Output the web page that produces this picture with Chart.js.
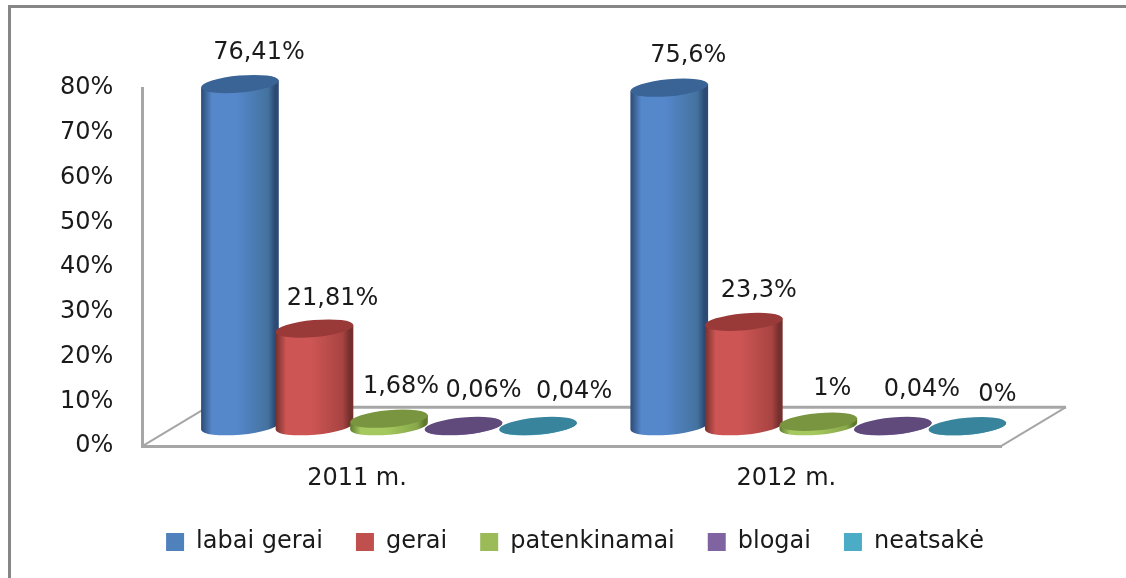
<!DOCTYPE html>
<html>
<head>
<meta charset="utf-8">
<script src="https://cdn.jsdelivr.net/npm/chart.js@4/dist/chart.umd.min.js"></script>
<style>
  html, body { margin: 0; background: #fff; }
  #wrap { position: relative; width: 1126px; height: 578px; }
</style>
</head>
<body>
<div id="wrap"><canvas id="myChart"></canvas></div>
<script>
  var years = ["2011 m.", "2012 m."];
  var labaiGerai = [76.41, 75.6];
  var gerai = [21.81, 23.3];
  var patenkinamai = [1.68, 1];
  var blogai = [0.06, 0.04];
  var neatsake = [0.04, 0];
  var seriesNames = ["labai gerai", "gerai", "patenkinamai", "blogai", "neatsakė"];
  var yTicks = [0, 10, 20, 30, 40, 50, 60, 70, 80];

  var FONT = "'DejaVu Sans'";
  var legendColors = ["#4f81bd", "#c0504d", "#9bbb59", "#8064a2", "#4bacc6"];
  // side colours: edge, centre, right shoulder, top cap
  var cylColors = [
    ["#2b4a74", "#5587cb", "#44729f", "#3a6496"],
    ["#752f2d", "#cd5654", "#a84442", "#9a3a38"],
    ["#5f7a2f", "#a6c95f", "#88a84a", "#7a9540"],
    ["#4d3b63", "#876aac", "#6f5890", "#604a7c"],
    ["#2a6b80", "#4fb5d0", "#3f94ad", "#38849d"],
  ];
  // where excel left each data label, relative to the cap centre
  var labelNudge = [
    [[19, -31], [19, -32]],
    [[18, -30], [15, -31]],
    [[12, -32], [14, -33]],
    [[20, -35], [29, -36]],
    [[36, -34], [30, -31]],
  ];

  function drawCylinder(ctx, cx, top, bottom, rx, ry, tilt, colors) {
    var grad = ctx.createLinearGradient(cx - rx, 0, cx + rx, 0);
    grad.addColorStop(0, colors[0]);
    grad.addColorStop(0.14, colors[1]);
    grad.addColorStop(0.45, colors[1]);
    grad.addColorStop(0.86, colors[2]);
    grad.addColorStop(0.95, colors[0]);
    grad.addColorStop(1, colors[0]);
    var dx = rx * Math.cos(tilt), dy = rx * Math.sin(tilt);
    ctx.beginPath();
    ctx.moveTo(cx - dx, top - dy);
    ctx.lineTo(cx - dx, bottom - dy);
    ctx.ellipse(cx, bottom, rx, ry, tilt, Math.PI, 0, true);
    ctx.lineTo(cx + dx, top + dy);
    ctx.closePath();
    ctx.fillStyle = grad;
    ctx.fill();
    ctx.beginPath();
    ctx.ellipse(cx, top, rx, ry, tilt, 0, Math.PI * 2);
    ctx.fillStyle = colors[3];
    ctx.fill();
  }

  var frame3d = {
    id: "frame3d",
    afterLayout: function (chart) {
      // excel centres the legend under the whole plot, floor included
      var l = chart.legend;
      l.left += 59;
      l.right += 59;
      l.top -= 14;
      l.bottom -= 14;
    },
    beforeDraw: function (chart) {
      var ctx = chart.ctx;
      ctx.save();
      ctx.strokeStyle = "#868686";
      ctx.lineWidth = 3;
      ctx.beginPath();
      ctx.moveTo(9.5, 578);
      ctx.lineTo(9.5, 6.5);
      ctx.lineTo(1126, 6.5);
      ctx.stroke();
      ctx.restore();
    },
    beforeDatasetsDraw: function (chart) {
      var a = chart.chartArea, ctx = chart.ctx;
      ctx.save();
      ctx.strokeStyle = "#a6a6a6";
      ctx.lineWidth = 2;
      ctx.beginPath();
      ctx.moveTo(a.left, a.bottom);
      ctx.lineTo(a.left + 65, a.bottom - 39);
      ctx.moveTo(a.right + 65, a.bottom - 39);
      ctx.lineTo(a.right, a.bottom);
      ctx.stroke();
      ctx.lineWidth = 3;
      ctx.beginPath();
      ctx.moveTo(a.left + 65, a.bottom - 39);
      ctx.lineTo(a.right + 65, a.bottom - 39);
      ctx.stroke();
      ctx.restore();
    },
    afterDatasetsDraw: function (chart) {
      var ctx = chart.ctx;
      var y = chart.scales.y;
      ctx.save();
      for (var i = 0; i < chart.data.datasets.length; i++) {
        chart.getDatasetMeta(i).data.forEach(function (bar, j) {
          var bottom = y.getPixelForValue(0) - 20;
          var top = y.getPixelForValue(chart.data.datasets[i].data[j]) - 20;
          drawCylinder(ctx, bar.x + 32, top, bottom, 39, 8.5, -0.09, cylColors[i]);
        });
      }
      ctx.font = "24px " + FONT;
      ctx.fillStyle = "#1a1a1a";
      ctx.textAlign = "center";
      ctx.textBaseline = "middle";
      for (var i = 0; i < chart.data.datasets.length; i++) {
        chart.getDatasetMeta(i).data.forEach(function (bar, j) {
          var v = chart.data.datasets[i].data[j];
          var n = labelNudge[i][j];
          var top = y.getPixelForValue(v) - 20;
          ctx.fillText(String(v).replace(".", ",") + "%", bar.x + 32 + n[0], top + n[1]);
        });
      }
      ctx.restore();
    },
  };

  var allSeries = [labaiGerai, gerai, patenkinamai, blogai, neatsake];

  var config = {
    type: "bar",
    data: {
      labels: years,
      datasets: allSeries.map(function (vals, i) {
        return {
          label: seriesNames[i],
          data: vals,
          // the cylinders are painted by frame3d instead
          backgroundColor: "rgba(0,0,0,0)",
          borderWidth: 0,
        };
      }),
    },
    options: {
      responsive: true,
      maintainAspectRatio: false,
      animation: false,
      datasets: { bar: { categoryPercentage: 0.868, barPercentage: 1 } },
      layout: { padding: { left: 31, right: 125, top: 88, bottom: 0 } },
      scales: {
        x: {
          grid: { display: false, drawTicks: false },
          border: { display: true, color: "#a6a6a6", width: 3 },
          ticks: { color: "#1a1a1a", font: { family: FONT, size: 24 }, padding: 18 },
        },
        y: {
          min: 0,
          max: 80,
          afterBuildTicks: function (axis) {
            axis.ticks = yTicks.map(function (v) { return { value: v }; });
          },
          grid: { display: false, drawTicks: false },
          border: { display: true, color: "#a6a6a6", width: 3 },
          ticks: {
            color: "#1a1a1a",
            font: { family: FONT, size: 24 },
            padding: 29,
            callback: function (v) { return v + "%"; },
          },
        },
      },
      plugins: {
        legend: {
          position: "bottom",
          labels: {
            color: "#1a1a1a",
            font: { family: FONT, size: 24 },
            boxWidth: 18,
            boxHeight: 18,
            padding: 33,
            generateLabels: function (chart) {
              return seriesNames.map(function (name, i) {
                return { text: name, fillStyle: legendColors[i], strokeStyle: legendColors[i], lineWidth: 0, datasetIndex: i, fontColor: "#1a1a1a" };
              });
            },
          },
        },
        tooltip: { enabled: false },
      },
    },
    plugins: [frame3d],
  };
  var myChart = new Chart(document.getElementById("myChart"), config);
</script>
</body>
</html>
